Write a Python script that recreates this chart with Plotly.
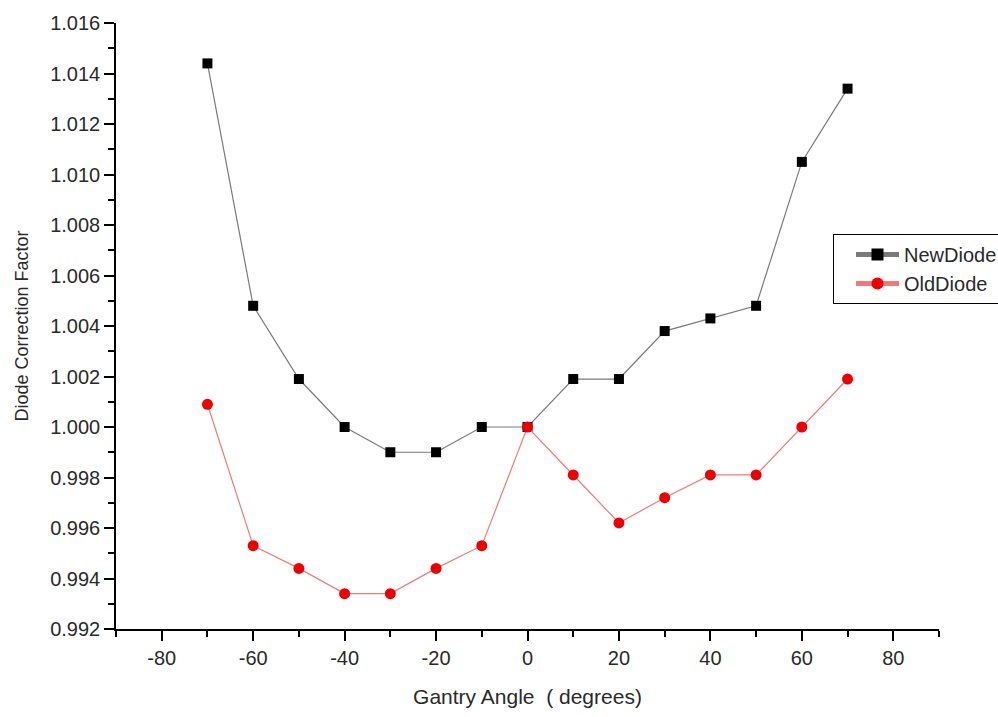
import plotly.graph_objects as go

# Gantry angle (degrees) and measured diode correction factors
angles = [-70, -60, -50, -40, -30, -20, -10, 0, 10, 20, 30, 40, 50, 60, 70]
new_diode = [1.0144, 1.0048, 1.0019, 1.0000, 0.9990, 0.9990, 1.0000, 1.0000,
             1.0019, 1.0019, 1.0038, 1.0043, 1.0048, 1.0105, 1.0134]
old_diode = [1.0009, 0.9953, 0.9944, 0.9934, 0.9934, 0.9944, 0.9953, 1.0000,
             0.9981, 0.9962, 0.9972, 0.9981, 0.9981, 1.0000, 1.0019]

series_names = ["NewDiode", "OldDiode"]
x_tick_values = [-80, -60, -40, -20, 0, 20, 40, 60, 80]
x_tick_labels = ["-80", "-60", "-40", "-20", "0", "20", "40", "60", "80"]
x_title = "Gantry Angle  ( degrees)"
y_title = "Diode Correction Factor"

FONT = "Liberation Sans, Arial, sans-serif"
TEXT = "#2a2a2a"

fig = go.Figure()
fig.add_trace(go.Scatter(
    x=angles, y=new_diode, name=series_names[0], mode="lines+markers",
    line=dict(color="#7a7a7a", width=1.2),
    marker=dict(symbol="square", size=10, color="#000000"),
))
fig.add_trace(go.Scatter(
    x=angles, y=old_diode, name=series_names[1], mode="lines+markers",
    line=dict(color="#f07a7a", width=1.2),
    marker=dict(symbol="circle", size=11, color="#ee0000"),
))

axis_common = dict(
    showline=True, linecolor="#000000", linewidth=1.5,
    ticks="outside", ticklen=10, tickwidth=1.5, tickcolor="#000000",
    showgrid=False, zeroline=False, mirror=False,
    tickfont=dict(family=FONT, size=20, color=TEXT),
)

fig.update_layout(
    width=998, height=717,
    margin=dict(l=116, r=59, t=23, b=88, autoexpand=False),
    paper_bgcolor="white", plot_bgcolor="white",
    showlegend=True,
    legend=dict(
        xref="container", yref="container",
        x=833 / 998, y=(717 - 234) / 717, xanchor="left", yanchor="top",
        bgcolor="white", bordercolor="#000000", borderwidth=1,
        font=dict(family=FONT, size=20, color=TEXT),
        tracegroupgap=0, itemsizing="constant",
        indentation=17, itemwidth=43,
    ),
    xaxis=dict(
        range=[-90, 90], tickvals=x_tick_values, ticktext=x_tick_labels,
        minor=dict(dtick=10, tick0=-90, ticks="outside", ticklen=6,
                   tickwidth=1.5, tickcolor="#000000"),
        title=dict(text=x_title, standoff=22,
                   font=dict(family=FONT, size=21, color=TEXT)),
        **axis_common,
    ),
    yaxis=dict(
        range=[0.992, 1.016], tick0=0.992, dtick=0.002, tickformat=".3f",
        minor=dict(dtick=0.001, ticks="outside", ticklen=6,
                   tickwidth=1.5, tickcolor="#000000"),
        title=dict(text=y_title, standoff=17,
                   font=dict(family=FONT, size=18, color=TEXT)),
        **axis_common,
    ),
)

fig.write_html("out.html")
